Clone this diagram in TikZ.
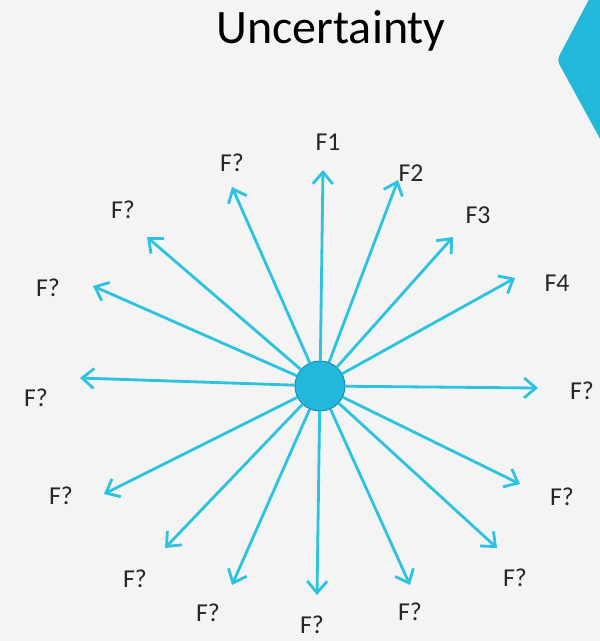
\documentclass[tikz,border=0pt]{standalone}
\usepackage{fontspec}
\setmainfont{Carlito}
\usetikzlibrary{arrows.meta}

\definecolor{raycol}{RGB}{44,194,224}
\definecolor{hubfill}{RGB}{33,184,220}
\definecolor{hubdraw}{RGB}{20,140,175}
\definecolor{bgcol}{RGB}{244,244,244}

\begin{document}
\begin{tikzpicture}[x=0.03cm,y=-0.03cm]
    % Styling
    \tikzset{
        c_title/.style={font=\fontsize{41}{46}\selectfont, text=black},
        c_lab/.style={font=\fontsize{22}{25}\selectfont, text=black!85, inner sep=0pt},
        c_hub/.style={circle, fill=hubfill, draw=hubdraw, line width=0.8pt, minimum size=1.5cm, inner sep=0pt},
        c_ray/.style={draw=raycol, line width=2.4pt, -{Straight Barb[length=10pt, width=17pt, line width=2.4pt]}},
        c_corner/.style={fill=hubfill, rounded corners=4pt}
    }

    % Background and frame
    \fill[bgcol] (0,0) rectangle (600,641);
    \useasboundingbox (0,0) rectangle (600,641);
    \begin{scope}
        \clip (0,0) rectangle (600,641);
        \fill[c_corner] (594,-10) -- (557,60) -- (604,146) -- (640,146) -- (640,-10) -- cycle;
    \end{scope}

    % Title
    \node[c_title] (title) at (331,31) {Uncertainty};

    % Hub
    \node[c_hub] (O) at (320,386) {};

    % Arrow tips
    \coordinate (t1) at (323,170);
    \coordinate (t2) at (398,180);
    \coordinate (t3) at (453,237);
    \coordinate (t4) at (515,278);
    \coordinate (t5) at (538,388);
    \coordinate (t6) at (520,484);
    \coordinate (t7) at (497,548);
    \coordinate (t8) at (410,585);
    \coordinate (t9) at (317,595);
    \coordinate (t10) at (232,585);
    \coordinate (t11) at (165,548);
    \coordinate (t12) at (104,494);
    \coordinate (t13) at (80,378);
    \coordinate (t14) at (93,286);
    \coordinate (t15) at (147,237);
    \coordinate (t16) at (232,187);

    % Rays
    \foreach \p in {t1,t2,t3,t4,t5,t6,t7,t8,t9,t10,t11,t12,t13,t14,t15,t16} {
        \draw[c_ray] (O) -- (\p);
    }

    % Labels
    \node[c_lab] (l1) at (328,142) {F1};
    \node[c_lab] (l2) at (411,173) {F2};
    \node[c_lab] (l3) at (478,215) {F3};
    \node[c_lab] (l4) at (557,283) {F4};
    \node[c_lab] (l5) at (582,391) {F?};
    \node[c_lab] (l6) at (562,497) {F?};
    \node[c_lab] (l7) at (515,578) {F?};
    \node[c_lab] (l8) at (410,612) {F?};
    \node[c_lab] (l9) at (312,625) {F?};
    \node[c_lab] (l10) at (208,613) {F?};
    \node[c_lab] (l11) at (135,579) {F?};
    \node[c_lab] (l12) at (61,496) {F?};
    \node[c_lab] (l13) at (36,398) {F?};
    \node[c_lab] (l14) at (48,288) {F?};
    \node[c_lab] (l15) at (123,210) {F?};
    \node[c_lab] (l16) at (232,163) {F?};
\end{tikzpicture}
\end{document}
